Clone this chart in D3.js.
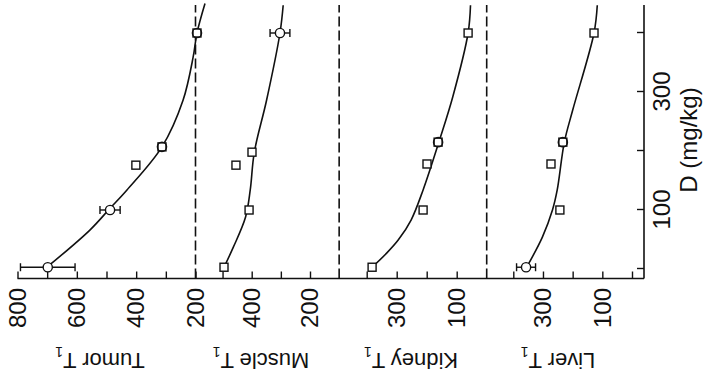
<!DOCTYPE html>
<html><head><meta charset="utf-8">
<script src="https://cdn.jsdelivr.net/npm/d3@7"></script>
<style>html,body{margin:0;padding:0;background:#fff;} svg{display:block}</style>
</head><body>
<svg id="c" width="704" height="380"></svg>
<script>
// ---- data ----
const doseTicks = [0, 100, 200, 300, 400];
const doseLabels = [100, 300];
const doseTitle = "D (mg/kg)";

const panelNames = ["Tumor", "Muscle", "Kidney", "Liver"];
const panelTicks = [[800,700,600,500,400,300,200],[500,400,300,200],[400,300,200,100],[400,300,200,100,0]];
const panelTickLabels = [[800,600,400,200],[400,200],[300,100],[300,100]];

const tumorDose = [3, 100, 176, 207, 400];
const tumorT1   = [698, 488, 401, 313, 195];
const tumorErr  = [92, 34, 0, 0, 0];
const tumorMark = ["c", "c", "s", "cs", "cs"];
const tumorFitDose = [3, 66, 103, 134, 207, 286, 359, 400, 450];
const tumorFitT1   = [701, 556, 488, 431, 313, 242, 208, 195, 168];

const muscleDose = [3, 100, 176, 198, 400];
const muscleT1   = [495, 409, 454, 399, 303];
const muscleErr  = [0, 0, 0, 0, 34];
const muscleMark = ["s", "s", "s", "s", "c"];
const muscleFitDose = [3, 37, 88, 134, 198, 286, 400, 447];
const muscleFitT1   = [495, 463, 421, 405, 391, 349, 303, 292];

const kidneyDose = [3, 100, 178, 215, 400];
const kidneyT1   = [382, 212, 199, 162, 62];
const kidneyErr  = [0, 0, 0, 0, 0];
const kidneyMark = ["s", "s", "s", "cs", "s"];
const kidneyFitDose = [3, 25, 49, 83, 134, 219, 292, 400, 447];
const kidneyFitT1   = [382, 337, 295, 252, 212, 157, 113, 62, 54];

const liverDose = [3, 100, 178, 215, 400];
const liverT1   = [357, 243, 273, 233, 128];
const liverErr  = [32, 0, 0, 0, 0];
const liverMark = ["c", "s", "s", "cs", "s"];
const liverFitDose = [3, 54, 100, 134, 215, 269, 400, 447];
const liverFitT1   = [355, 302, 268, 252, 228, 200, 128, 117];

// ---- layout (figure is drawn upright, then turned a quarter turn) ----
const svg = d3.select("#c");
const g = svg.append("g").attr("transform", "translate(0,380) rotate(-90)");

const axisX = 101.5;   // value axis (original x)
const axisY = 644;     // dose axis (original y)
const x = d3.scaleLinear().domain([0, 400]).range([111, 347]);
const xTop = 375;

const panelScales = [
  d3.scaleLinear().domain([800, 200]).range([17.5, 195.5]),
  d3.scaleLinear().domain([400, 200]).range([251.7, 310]),
  d3.scaleLinear().domain([300, 100]).range([396.7, 456.7]),
  d3.scaleLinear().domain([400, 0]).range([513.3, 632])
];
const labelCenters = [100, 261, 411, 558];
const dashedAt = [[0,200],[1,100],[2,0]];

const series = [
  {dose: tumorDose, v: tumorT1, err: tumorErr, mark: tumorMark, fd: tumorFitDose, fv: tumorFitT1},
  {dose: muscleDose, v: muscleT1, err: muscleErr, mark: muscleMark, fd: muscleFitDose, fv: muscleFitT1},
  {dose: kidneyDose, v: kidneyT1, err: kidneyErr, mark: kidneyMark, fd: kidneyFitDose, fv: kidneyFitT1},
  {dose: liverDose, v: liverT1, err: liverErr, mark: liverMark, fd: liverFitDose, fv: liverFitT1}
];

const ink = "#111";
const numFont = "'Liberation Sans', Arial, sans-serif";

// value axis line
g.append("line").attr("x1", axisX).attr("x2", axisX).attr("y1", 17.5).attr("y2", axisY)
  .attr("stroke", ink).attr("stroke-width", 1.6);
// dose axis line
g.append("line").attr("x1", axisX).attr("x2", xTop).attr("y1", axisY).attr("y2", axisY)
  .attr("stroke", ink).attr("stroke-width", 1.6);

// dose axis ticks + labels
const doseAxis = d3.axisBottom(x).tickValues(doseTicks).tickSizeInner(-7).tickSizeOuter(0)
  .tickFormat(d => doseLabels.includes(d) ? d : "");
const da = g.append("g").attr("transform", `translate(0,${axisY})`).call(doseAxis);
da.select(".domain").remove();
da.selectAll(".tick line").attr("stroke", ink).attr("stroke-width", 1.4);
da.selectAll(".tick text").attr("font-family", numFont).attr("font-size", 24).attr("fill", ink)
  .attr("dy", null).attr("y", 26);

g.append("text").attr("x", 240).attr("y", 697).attr("text-anchor", "middle")
  .attr("font-family", numFont).attr("font-size", 24).attr("fill", ink).text(doseTitle);

// panels
panelScales.forEach((ys, i) => {
  const ax = d3.axisLeft(ys).tickValues(panelTicks[i]).tickSizeInner(-7).tickSizeOuter(0).tickPadding(9.5)
    .tickFormat(d => panelTickLabels[i].includes(d) ? d : "");
  const a = g.append("g").attr("transform", `translate(${axisX},0)`).call(ax);
  a.select(".domain").remove();
  a.selectAll(".tick line").attr("stroke", ink).attr("stroke-width", 1.4);
  a.selectAll(".tick text").attr("font-family", numFont).attr("font-size", 24).attr("fill", ink);

  const lab = g.append("text").attr("transform", `translate(27,${labelCenters[i]}) rotate(-90)`)
    .attr("text-anchor", "middle").attr("font-family", numFont).attr("font-size", 22).attr("fill", ink);
  lab.append("tspan").text(panelNames[i] + " T");
  lab.append("tspan").attr("dy", 6).attr("font-size", 14).text("1");
});

// dashed separators
dashedAt.forEach(([pi, v]) => {
  const yy = panelScales[pi](v);
  g.append("line").attr("x1", axisX).attr("x2", xTop).attr("y1", yy).attr("y2", yy)
    .attr("stroke", ink).attr("stroke-width", 1.6).attr("stroke-dasharray", "10,4");
});

// curves, error bars, markers
series.forEach((s, i) => {
  const ys = panelScales[i];
  const line = d3.line().x(d => x(d[0])).y(d => ys(d[1])).curve(d3.curveCatmullRom.alpha(0.5));
  g.append("path").datum(s.fd.map((d, j) => [d, s.fv[j]])).attr("d", line)
    .attr("fill", "none").attr("stroke", ink).attr("stroke-width", 1.6);

  s.dose.forEach((d, j) => {
    const cx = x(d), cy = ys(s.v[j]);
    if (s.err[j] > 0) {
      const ya = ys(s.v[j] + s.err[j]), yb = ys(s.v[j] - s.err[j]);
      g.append("line").attr("x1", cx).attr("x2", cx).attr("y1", ya).attr("y2", yb).attr("stroke", ink).attr("stroke-width", 1.4);
      [ya, yb].forEach(yc => g.append("line").attr("x1", cx - 4).attr("x2", cx + 4).attr("y1", yc).attr("y2", yc).attr("stroke", ink).attr("stroke-width", 1.4));
    }
    if (s.mark[j].includes("s")) {
      g.append("rect").attr("x", cx - 4).attr("y", cy - 4).attr("width", 8).attr("height", 8)
        .attr("fill", "#fff").attr("stroke", ink).attr("stroke-width", 1.4);
    }
    if (s.mark[j].includes("c")) {
      g.append("circle").attr("cx", cx).attr("cy", cy).attr("r", 4.6)
        .attr("fill", s.mark[j] === "cs" ? "none" : "#fff").attr("stroke", ink).attr("stroke-width", 1.4);
    }
  });
});
</script>
</body></html>
